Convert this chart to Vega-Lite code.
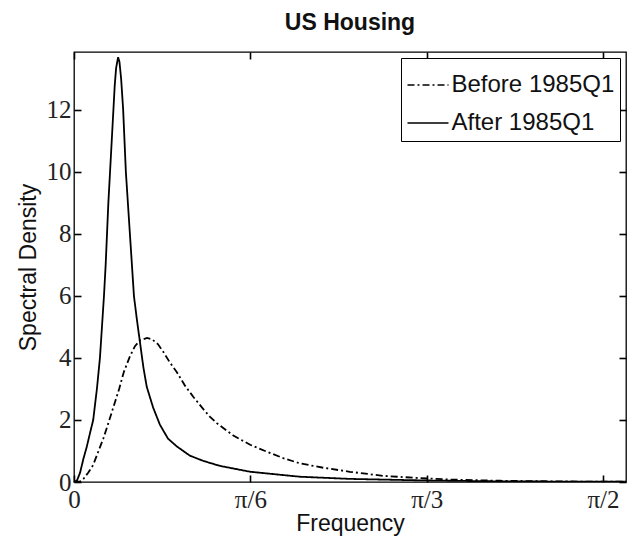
{
  "$schema": "https://vega.github.io/schema/vega-lite/v6.json",
  "width": 552,
  "height": 430,
  "autosize": "none",
  "padding": {"left": 74, "top": 52, "right": 3, "bottom": 57},
  "title": {"text": "US Housing", "font": "Liberation Sans", "fontSize": 23, "fontWeight": "bold", "color": "#111", "anchor": "middle", "offset": 16},
  "config": {
    "view": {"stroke": "black", "strokeWidth": 1.3},
    "axis": {"domain": false, "grid": false, "ticks": true, "tickColor": "black", "tickWidth": 1.6, "tickOpacity": 1, "labelColor": "#222", "labelFont": "Liberation Serif", "labelFontSize": 25, "titleFont": "Liberation Sans", "titleFontSize": 23, "titleFontWeight": "normal", "titleColor": "#111"}
  },
  "data": {"values": [
    {"period": "After 1985Q1", "freq": 0.0, "density": 0.0},
    {"period": "After 1985Q1", "freq": 0.009, "density": 0.05},
    {"period": "After 1985Q1", "freq": 0.018, "density": 0.3},
    {"period": "After 1985Q1", "freq": 0.028, "density": 0.75},
    {"period": "After 1985Q1", "freq": 0.038, "density": 1.14},
    {"period": "After 1985Q1", "freq": 0.048, "density": 1.6},
    {"period": "After 1985Q1", "freq": 0.057, "density": 2.0},
    {"period": "After 1985Q1", "freq": 0.068, "density": 3.0},
    {"period": "After 1985Q1", "freq": 0.077, "density": 4.0},
    {"period": "After 1985Q1", "freq": 0.083, "density": 5.0},
    {"period": "After 1985Q1", "freq": 0.089, "density": 6.0},
    {"period": "After 1985Q1", "freq": 0.094, "density": 7.0},
    {"period": "After 1985Q1", "freq": 0.098, "density": 8.0},
    {"period": "After 1985Q1", "freq": 0.102, "density": 9.0},
    {"period": "After 1985Q1", "freq": 0.107, "density": 10.0},
    {"period": "After 1985Q1", "freq": 0.112, "density": 11.0},
    {"period": "After 1985Q1", "freq": 0.117, "density": 12.0},
    {"period": "After 1985Q1", "freq": 0.121, "density": 12.8},
    {"period": "After 1985Q1", "freq": 0.125, "density": 13.35},
    {"period": "After 1985Q1", "freq": 0.131, "density": 13.7},
    {"period": "After 1985Q1", "freq": 0.135, "density": 13.55},
    {"period": "After 1985Q1", "freq": 0.14, "density": 13.0},
    {"period": "After 1985Q1", "freq": 0.146, "density": 12.0},
    {"period": "After 1985Q1", "freq": 0.15, "density": 11.0},
    {"period": "After 1985Q1", "freq": 0.154, "density": 10.0},
    {"period": "After 1985Q1", "freq": 0.16, "density": 9.0},
    {"period": "After 1985Q1", "freq": 0.166, "density": 8.0},
    {"period": "After 1985Q1", "freq": 0.172, "density": 7.0},
    {"period": "After 1985Q1", "freq": 0.178, "density": 6.0},
    {"period": "After 1985Q1", "freq": 0.186, "density": 5.3},
    {"period": "After 1985Q1", "freq": 0.196, "density": 4.5},
    {"period": "After 1985Q1", "freq": 0.206, "density": 3.7},
    {"period": "After 1985Q1", "freq": 0.216, "density": 3.07},
    {"period": "After 1985Q1", "freq": 0.235, "density": 2.4},
    {"period": "After 1985Q1", "freq": 0.255, "density": 1.85},
    {"period": "After 1985Q1", "freq": 0.279, "density": 1.4},
    {"period": "After 1985Q1", "freq": 0.305, "density": 1.15},
    {"period": "After 1985Q1", "freq": 0.344, "density": 0.85},
    {"period": "After 1985Q1", "freq": 0.384, "density": 0.68},
    {"period": "After 1985Q1", "freq": 0.433, "density": 0.52},
    {"period": "After 1985Q1", "freq": 0.523, "density": 0.33},
    {"period": "After 1985Q1", "freq": 0.671, "density": 0.17},
    {"period": "After 1985Q1", "freq": 0.819, "density": 0.1},
    {"period": "After 1985Q1", "freq": 1.042, "density": 0.05},
    {"period": "After 1985Q1", "freq": 1.265, "density": 0.02},
    {"period": "After 1985Q1", "freq": 1.562, "density": 0.01},
    {"period": "After 1985Q1", "freq": 1.639, "density": 0.01},
    {"period": "Before 1985Q1", "freq": 0.0, "density": 0.0},
    {"period": "Before 1985Q1", "freq": 0.018, "density": 0.02},
    {"period": "Before 1985Q1", "freq": 0.028, "density": 0.1},
    {"period": "Before 1985Q1", "freq": 0.042, "density": 0.3},
    {"period": "Before 1985Q1", "freq": 0.057, "density": 0.55},
    {"period": "Before 1985Q1", "freq": 0.071, "density": 0.95},
    {"period": "Before 1985Q1", "freq": 0.087, "density": 1.4},
    {"period": "Before 1985Q1", "freq": 0.102, "density": 1.9},
    {"period": "Before 1985Q1", "freq": 0.118, "density": 2.45},
    {"period": "Before 1985Q1", "freq": 0.134, "density": 3.0},
    {"period": "Before 1985Q1", "freq": 0.148, "density": 3.55},
    {"period": "Before 1985Q1", "freq": 0.166, "density": 4.05},
    {"period": "Before 1985Q1", "freq": 0.181, "density": 4.38},
    {"period": "Before 1985Q1", "freq": 0.196, "density": 4.57},
    {"period": "Before 1985Q1", "freq": 0.217, "density": 4.65},
    {"period": "Before 1985Q1", "freq": 0.232, "density": 4.6},
    {"period": "Before 1985Q1", "freq": 0.249, "density": 4.45},
    {"period": "Before 1985Q1", "freq": 0.265, "density": 4.2},
    {"period": "Before 1985Q1", "freq": 0.285, "density": 3.85},
    {"period": "Before 1985Q1", "freq": 0.305, "density": 3.55},
    {"period": "Before 1985Q1", "freq": 0.33, "density": 3.1},
    {"period": "Before 1985Q1", "freq": 0.354, "density": 2.75},
    {"period": "Before 1985Q1", "freq": 0.384, "density": 2.35},
    {"period": "Before 1985Q1", "freq": 0.404, "density": 2.1},
    {"period": "Before 1985Q1", "freq": 0.424, "density": 1.9},
    {"period": "Before 1985Q1", "freq": 0.448, "density": 1.7},
    {"period": "Before 1985Q1", "freq": 0.473, "density": 1.5},
    {"period": "Before 1985Q1", "freq": 0.523, "density": 1.2},
    {"period": "Before 1985Q1", "freq": 0.572, "density": 0.98},
    {"period": "Before 1985Q1", "freq": 0.621, "density": 0.77},
    {"period": "Before 1985Q1", "freq": 0.671, "density": 0.6},
    {"period": "Before 1985Q1", "freq": 0.74, "density": 0.46},
    {"period": "Before 1985Q1", "freq": 0.819, "density": 0.33},
    {"period": "Before 1985Q1", "freq": 0.917, "density": 0.2},
    {"period": "Before 1985Q1", "freq": 1.017, "density": 0.13},
    {"period": "Before 1985Q1", "freq": 1.116, "density": 0.08},
    {"period": "Before 1985Q1", "freq": 1.265, "density": 0.04},
    {"period": "Before 1985Q1", "freq": 1.413, "density": 0.02},
    {"period": "Before 1985Q1", "freq": 1.562, "density": 0.01},
    {"period": "Before 1985Q1", "freq": 1.639, "density": 0.01}
  ]},
  "layer": [
    {
      "mark": {"type": "line", "clip": true, "color": "black", "strokeWidth": 1.8},
      "encoding": {
        "x": {"field": "freq", "type": "quantitative", "scale": {"domain": [0, 1.639], "nice": false, "zero": false},
          "axis": {"orient": "bottom", "offset": -7, "title": "Frequency", "values": [0, 0.5236, 1.0472, 1.5708], "labelExpr": "datum.value < 0.1 ? '0' : datum.value < 0.6 ? 'π/6' : datum.value < 1.1 ? 'π/3' : 'π/2'", "tickSize": 7, "labelPadding": 5, "labelFlush": false, "titleBaseline": "alphabetic", "titleY": 55, "titleX": 276}},
        "y": {"field": "density", "type": "quantitative", "scale": {"domain": [0, 13.87], "nice": false},
          "axis": {"orient": "left", "offset": -7, "title": "Spectral Density", "values": [0, 2, 4, 6, 8, 10, 12], "tickSize": 7, "labelPadding": 3, "labelFlush": false, "titleBaseline": "alphabetic", "titleX": -46, "titleY": 215, "titleAngle": -90}},
        "strokeDash": {"field": "period", "type": "nominal",
          "scale": {"domain": ["Before 1985Q1", "After 1985Q1"], "range": [[7, 3, 2, 3], [1, 0]]},
          "legend": {"title": null, "orient": "none", "legendX": 327, "legendY": 6, "direction": "vertical", "symbolType": "stroke", "symbolSize": 1681, "symbolStrokeWidth": 1.5, "symbolStrokeColor": "black", "labelFont": "Liberation Sans", "labelFontSize": 24, "labelColor": "#111", "labelOffset": 2, "labelLimit": 400, "strokeColor": "black", "fillColor": "white", "padding": 5.5, "rowPadding": 4}}
      }
    },
    {
      "mark": {"type": "line", "opacity": 0},
      "encoding": {
        "x": {"field": "freq", "type": "quantitative", "axis": {"orient": "top", "offset": -7, "title": null, "labels": false, "values": [0, 0.5236, 1.0472, 1.5708], "tickSize": 7}},
        "y": {"field": "density", "type": "quantitative", "axis": {"orient": "right", "offset": -7, "title": null, "labels": false, "values": [0, 2, 4, 6, 8, 10, 12], "tickSize": 7}},
        "detail": {"field": "period", "type": "nominal"}
      }
    }
  ],
  "resolve": {"axis": {"x": "independent", "y": "independent"}}
}
